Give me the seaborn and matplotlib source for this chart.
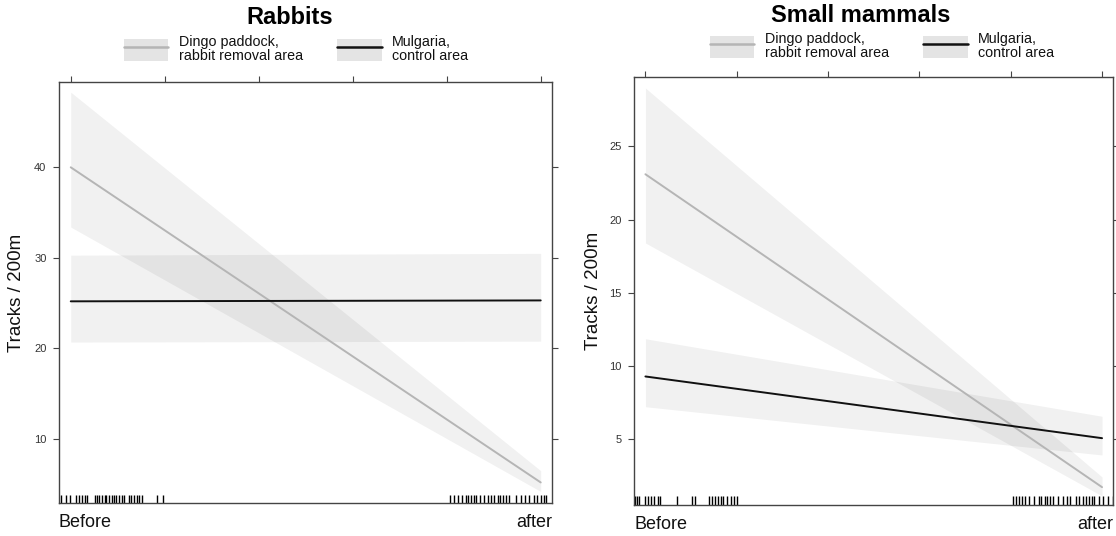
import numpy as np
import pandas as pd
import matplotlib
matplotlib.use("Agg")
import matplotlib.pyplot as plt
import seaborn as sns
from matplotlib.patches import Patch
from matplotlib.lines import Line2D
from matplotlib.legend_handler import HandlerTuple

# ---- data ----
periods = ["Before", "after"]
period_x = [0.0, 1.0]

area_labels = ["Dingo paddock,\nrabbit removal area", "Mulgaria,\ncontrol area"]

# Rabbits panel: fitted value and confidence band at Before / after
rab_dingo_fit = [40.0, 5.2]
rab_dingo_lo = [33.4, 4.2]
rab_dingo_hi = [48.3, 6.5]
rab_mulg_fit = [25.2, 25.3]
rab_mulg_lo = [20.7, 20.8]
rab_mulg_hi = [30.3, 30.5]

# Small mammals panel
sm_dingo_fit = [23.1, 1.7]
sm_dingo_lo = [18.4, 1.1]
sm_dingo_hi = [29.0, 2.4]
sm_mulg_fit = [9.27, 5.05]
sm_mulg_lo = [7.2, 3.9]
sm_mulg_hi = [11.85, 6.55]

# rug (jittered observation times)
rab_rug = [-0.021, -0.010, -0.001, 0.011, 0.018, 0.024, 0.030, 0.034, 0.051, 0.056,
           0.061, 0.066, 0.072, 0.076, 0.082, 0.087, 0.091, 0.097, 0.103, 0.108,
           0.114, 0.123, 0.129, 0.135, 0.140, 0.145, 0.152, 0.184, 0.196,
           0.806, 0.816, 0.825, 0.833, 0.840, 0.846, 0.852, 0.857, 0.863, 0.871,
           0.880, 0.888, 0.894, 0.901, 0.909, 0.914, 0.920, 0.926, 0.932, 0.947,
           0.958, 0.966, 0.976, 0.985, 0.993, 1.000, 1.007, 1.012]
sm_rug = [-0.022, -0.018, -0.013, 0.000, 0.006, 0.012, 0.019, 0.027, 0.033, 0.070,
          0.101, 0.109, 0.140, 0.146, 0.153, 0.160, 0.165, 0.171, 0.179, 0.187,
          0.195, 0.201,
          0.805, 0.811, 0.818, 0.824, 0.831, 0.841, 0.852, 0.862, 0.867, 0.874,
          0.880, 0.885, 0.893, 0.903, 0.914, 0.924, 0.930, 0.942, 0.950, 0.958,
          0.964, 0.971, 0.977, 0.983, 0.993, 1.003, 1.014, 1.024]

sns.set_theme(style="white")
plt.rcParams["font.family"] = ["Liberation Sans", "DejaVu Sans"]

line_cols = {area_labels[0]: "#b5b5b5", area_labels[1]: "#111111"}
axis_col = "#444444"


def panel(ax, fits, los, his, rug, ylim, yticks, lab_x):
    frames = []
    for lab, f in zip(area_labels, fits):
        frames.append(pd.DataFrame({"x": period_x, "y": f, "area": lab}))
    df = pd.concat(frames)
    # confidence bands
    for lo, hi in zip(los, his):
        ax.fill_between(period_x, lo, hi, color="black", alpha=0.055, lw=0)
    sns.lineplot(data=df, x="x", y="y", hue="area", palette=line_cols,
                 legend=False, lw=1.4, ax=ax)
    sns.rugplot(x=rug, ax=ax, height=0.02, color="black", lw=1.1)

    ax.set_xlim(-0.025, 1.024)
    ax.set_ylim(*ylim)
    ax.set_xticks(np.linspace(0, 1, 6))
    ax.set_yticks(yticks)
    ax.tick_params(axis="x", bottom=False, top=True, labelbottom=False,
                   direction="out", length=4.5, width=0.8, color=axis_col)
    ax.tick_params(axis="y", left=True, right=True, labelright=False,
                   direction="out", length=4, width=0.8, color=axis_col,
                   labelsize=8, pad=5, labelcolor="#333333")
    for s in ax.spines.values():
        s.set_visible(True)
        s.set_color(axis_col)
        s.set_linewidth(1.0)
    ax.set_xlabel("")
    ax.set_ylabel("Tracks / 200m", fontsize=13.5, color="#111111")
    ax.yaxis.set_label_coords(lab_x, 0.5)
    ax.text(0, -0.025, periods[0], transform=ax.transAxes, ha="left", va="top",
            fontsize=13, color="#111111")
    ax.text(1, -0.025, periods[1], transform=ax.transAxes, ha="right", va="top",
            fontsize=13, color="#111111")


def add_legend(ax, fig, cx, cy):
    handles = []
    for lab in area_labels:
        handles.append((Patch(facecolor="#e4e4e4", edgecolor="none"),
                        Line2D([0], [0], color=line_cols[lab], lw=1.8)))
    leg = ax.legend(handles, area_labels, ncol=2, frameon=False, fontsize=10.3,
                    handler_map={tuple: HandlerTuple(ndivide=1, pad=0)},
                    handlelength=3.1, handleheight=1.95, handletextpad=0.75,
                    columnspacing=2.4, loc="center",
                    bbox_to_anchor=(cx, cy), bbox_transform=fig.transFigure)
    for t in leg.get_texts():
        t.set_linespacing(1.05)
        t.set_color("#111111")


fig = plt.figure(figsize=(11.16, 5.36), dpi=100)
ax1 = fig.add_axes([59 / 1116, 33 / 536, 493 / 1116, 421 / 536])
ax2 = fig.add_axes([634 / 1116, 31 / 536, 479 / 1116, 428 / 536])

panel(ax1, [rab_dingo_fit, rab_mulg_fit], [rab_dingo_lo, rab_mulg_lo],
      [rab_dingo_hi, rab_mulg_hi], rab_rug, (2.93, 49.42), [10, 20, 30, 40], -0.069)
panel(ax2, [sm_dingo_fit, sm_mulg_fit], [sm_dingo_lo, sm_mulg_lo],
      [sm_dingo_hi, sm_mulg_hi], sm_rug, (0.48, 29.75), [5, 10, 15, 20, 25], -0.067)

add_legend(ax1, fig, 296 / 1116, 1 - 49 / 536)
add_legend(ax2, fig, 882 / 1116, 1 - 46 / 536)

fig.text(290 / 1116, 1 - 17 / 536, "Rabbits", ha="center", va="center",
         fontsize=17, fontweight="bold", color="black")
fig.text(861 / 1116, 1 - 16 / 536, "Small mammals", ha="center", va="center",
         fontsize=17, fontweight="bold", color="black")

fig.savefig("out.png", dpi=100)
